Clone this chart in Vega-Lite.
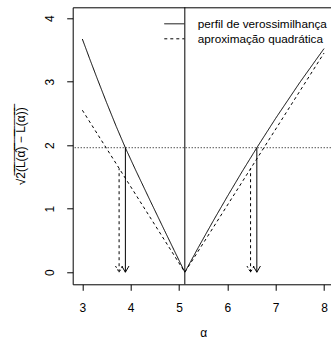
{
  "$schema": "https://vega.github.io/schema/vega-lite/v6.json",
  "width": 261,
  "height": 277,
  "autosize": "none",
  "padding": {"left": 72.7, "top": 7.3, "right": 0, "bottom": 55.7},
  "background": "white",
  "config": {
    "font": "Liberation Sans",
    "view": {"stroke": "black", "strokeWidth": 1},
    "axis": {
      "grid": false, "domain": false, "tickColor": "black", "tickSize": 6, "tickWidth": 1,
      "labelColor": "black", "labelFont": "Liberation Sans", "labelFontSize": 12,
      "titleColor": "black", "titleFont": "Liberation Sans", "titleFontSize": 12, "titleFontWeight": "normal"
    },
    "legend": {
      "orient": "none", "legendX": 94.1, "legendY": 9, "padding": 0, "title": null,
      "symbolType": "M-1.43,0L1.43,0", "symbolSize": 196, "symbolStrokeColor": "black", "symbolStrokeWidth": 1, "symbolFillColor": "transparent",
      "labelFont": "Liberation Sans", "labelFontSize": 11.75, "labelColor": "black", "labelOffset": 15.9, "rowPadding": 0
    }
  },
  "datasets": {
    "curves": [
      {"x": 3.0, "y": 3.67, "s": "perfil de verossimilhança"},
      {"x": 3.15, "y": 3.362, "s": "perfil de verossimilhança"},
      {"x": 3.3, "y": 3.062, "s": "perfil de verossimilhança"},
      {"x": 3.5, "y": 2.672, "s": "perfil de verossimilhança"},
      {"x": 3.7, "y": 2.296, "s": "perfil de verossimilhança"},
      {"x": 3.89, "y": 1.958, "s": "perfil de verossimilhança"},
      {"x": 4.1, "y": 1.611, "s": "perfil de verossimilhança"},
      {"x": 4.4, "y": 1.131, "s": "perfil de verossimilhança"},
      {"x": 4.7, "y": 0.657, "s": "perfil de verossimilhança"},
      {"x": 4.9, "y": 0.343, "s": "perfil de verossimilhança"},
      {"x": 5.12, "y": 0.0, "s": "perfil de verossimilhança"},
      {"x": 5.4, "y": 0.391, "s": "perfil de verossimilhança"},
      {"x": 5.7, "y": 0.798, "s": "perfil de verossimilhança"},
      {"x": 6.0, "y": 1.193, "s": "perfil de verossimilhança"},
      {"x": 6.3, "y": 1.577, "s": "perfil de verossimilhança"},
      {"x": 6.61, "y": 1.96, "s": "perfil de verossimilhança"},
      {"x": 7.0, "y": 2.423, "s": "perfil de verossimilhança"},
      {"x": 7.5, "y": 2.988, "s": "perfil de verossimilhança"},
      {"x": 8.0, "y": 3.52, "s": "perfil de verossimilhança"},
      {"x": 3.0, "y": 2.55, "s": "aproximação quadrática"},
      {"x": 5.12, "y": 0.0, "s": "aproximação quadrática"},
      {"x": 8.0, "y": 3.45, "s": "aproximação quadrática"}
    ],
    "arrowsSolid": [
      {"x": 3.89, "y": 0, "y2": 1.96},
      {"x": 6.61, "y": 0, "y2": 1.96}
    ],
    "arrowsDashed": [
      {"x": 3.76, "y": 0, "y2": 1.63},
      {"x": 6.48, "y": 0, "y2": 1.63}
    ]
  },
  "layer": [
    {
      "data": {"values": [{"y": 1.96}]},
      "mark": {"type": "rule", "color": "black", "strokeWidth": 1, "strokeDash": [1, 2]},
      "encoding": {
        "y": {"field": "y", "type": "quantitative", "scale": {"domain": [-0.19, 4.17], "nice": false, "zero": false}, "title": "\u221a2\u0305(\u0305L\u0305(\u0305\u03b1\u0302\u0305)\u0305 \u0305\u2212\u0305 \u0305L\u0305(\u0305\u03b1\u0305)\u0305)\u0305",
          "axis": {"values": [0, 1, 2, 3, 4], "format": "d", "labelAngle": -90, "labelAlign": "center", "labelBaseline": "alphabetic", "labelPadding": 13, "titlePadding": 16, "labelFlush": false}}
      }
    },
    {
      "data": {"values": [{"x": 5.12}]},
      "mark": {"type": "rule", "color": "black", "strokeWidth": 1},
      "encoding": {
        "x": {"field": "x", "type": "quantitative", "scale": {"domain": [2.8, 8.2], "nice": false, "zero": false}, "title": "\u03b1",
          "axis": {"values": [3, 4, 5, 6, 7, 8], "format": "d", "labelPadding": 12, "titlePadding": 14, "labelFlush": false}}
      }
    },
    {
      "data": {"name": "curves"},
      "mark": {"type": "line", "color": "black", "strokeWidth": 1},
      "encoding": {
        "x": {"field": "x", "type": "quantitative", "title": "\u03b1"},
        "y": {"field": "y", "type": "quantitative", "title": "\u221a2\u0305(\u0305L\u0305(\u0305\u03b1\u0302\u0305)\u0305 \u0305\u2212\u0305 \u0305L\u0305(\u0305\u03b1\u0305)\u0305)\u0305"},
        "strokeDash": {"field": "s", "type": "nominal", "scale": {"domain": ["perfil de verossimilhança", "aproximação quadrática"], "range": [[1, 0], [3, 3]]}},
        "order": {"field": "x", "type": "quantitative"}
      }
    },
    {
      "data": {"name": "arrowsSolid"},
      "mark": {"type": "rule", "color": "black", "strokeWidth": 1},
      "encoding": {
        "x": {"field": "x", "type": "quantitative", "title": "\u03b1"},
        "y": {"field": "y", "type": "quantitative", "title": "\u221a2\u0305(\u0305L\u0305(\u0305\u03b1\u0302\u0305)\u0305 \u0305\u2212\u0305 \u0305L\u0305(\u0305\u03b1\u0305)\u0305)\u0305"},
        "y2": {"field": "y2"}
      }
    },
    {
      "data": {"name": "arrowsDashed"},
      "mark": {"type": "rule", "color": "black", "strokeWidth": 1, "strokeDash": [3, 3]},
      "encoding": {
        "x": {"field": "x", "type": "quantitative", "title": "\u03b1"},
        "y": {"field": "y", "type": "quantitative", "title": "\u221a2\u0305(\u0305L\u0305(\u0305\u03b1\u0302\u0305)\u0305 \u0305\u2212\u0305 \u0305L\u0305(\u0305\u03b1\u0305)\u0305)\u0305"},
        "y2": {"field": "y2"}
      }
    },
    {
      "data": {"name": "arrowsSolid"},
      "mark": {"type": "point", "shape": "M-0.58,-1L0,0L0.58,-1", "size": 154, "filled": false, "stroke": "black", "strokeWidth": 1, "opacity": 1},
      "encoding": {
        "x": {"field": "x", "type": "quantitative", "title": "\u03b1"},
        "y": {"field": "y", "type": "quantitative", "title": "\u221a2\u0305(\u0305L\u0305(\u0305\u03b1\u0302\u0305)\u0305 \u0305\u2212\u0305 \u0305L\u0305(\u0305\u03b1\u0305)\u0305)\u0305"}
      }
    },
    {
      "data": {"name": "arrowsDashed"},
      "mark": {"type": "point", "shape": "M-0.58,-1L0,0L0.58,-1", "size": 154, "filled": false, "stroke": "black", "strokeWidth": 1, "strokeDash": [2, 2], "opacity": 1},
      "encoding": {
        "x": {"field": "x", "type": "quantitative", "title": "\u03b1"},
        "y": {"field": "y", "type": "quantitative", "title": "\u221a2\u0305(\u0305L\u0305(\u0305\u03b1\u0302\u0305)\u0305 \u0305\u2212\u0305 \u0305L\u0305(\u0305\u03b1\u0305)\u0305)\u0305"}
      }
    }
  ]
}
